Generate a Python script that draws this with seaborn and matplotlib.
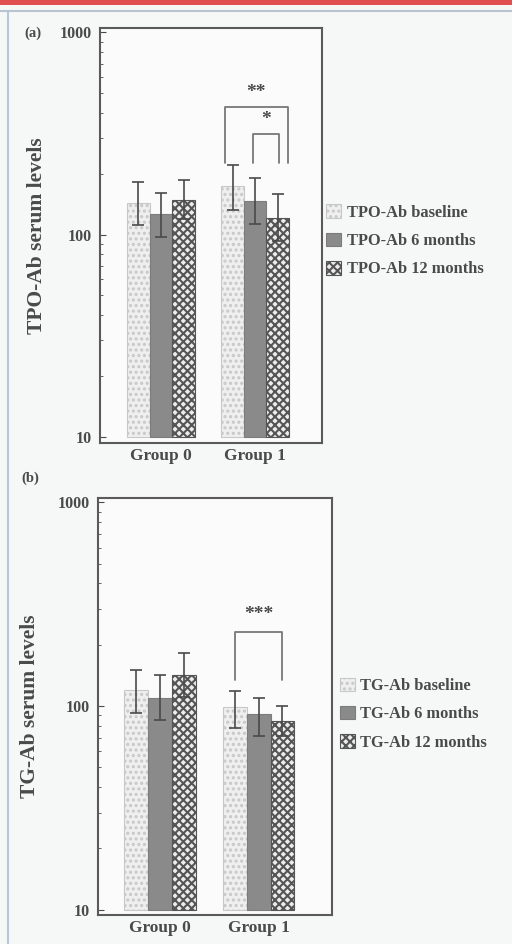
import numpy as np
import pandas as pd
import matplotlib
matplotlib.use("Agg")
import matplotlib.pyplot as plt
import matplotlib.patches as mpatches
from matplotlib.lines import Line2D
import seaborn as sns

# values (log scale)
groups = ["Group 0", "Group 1"]
tpo_labels = ["TPO-Ab baseline", "TPO-Ab 6 months", "TPO-Ab 12 months"]
tg_labels = ["TG-Ab baseline", "TG-Ab 6 months", "TG-Ab 12 months"]

tpo_mean = [[144, 126, 149], [173, 147, 121]]
tpo_low = [[111, 97, 119], [133, 113, 93]]
tpo_high = [[181, 161, 187], [222, 191, 158]]

tg_mean = [[120, 109, 142], [99, 91, 84]]
tg_low = [[92, 85, 111], [78, 71, 71]]
tg_high = [[150, 142, 182], [118, 109, 100]]

sns.set_style("white")
plt.rcParams["font.family"] = ["Liberation Serif", "DejaVu Serif"]
plt.rcParams["font.weight"] = "bold"
plt.rcParams["hatch.linewidth"] = 1.5

ink = "#4a4a4a"
bg = "#f6f8f8"
faces = ["#efefef", "#8a8a8a", "#ececec"]
edges = ["#c8c8c8", "#7c7c7c", "#555555"]
hatches = ["...", "", "xxxx"]
base = 10


def make_df(means, labels):
    rows = []
    for g, vals in zip(groups, means):
        for lab, v in zip(labels, vals):
            rows.append({"group": g, "time": lab, "value": v})
    return pd.DataFrame(rows)


def draw_panel(ax, means, lows, highs, labels, ylabel, ylab_x, tag, tag_xy,
               xlim, ylim, leg_xy):
    df = make_df(means, labels)
    sns.barplot(data=df, x="group", y="value", hue="time", hue_order=labels,
                order=groups, width=0.72, gap=0, errorbar=None, legend=False, ax=ax)
    ax.set_yscale("log")
    centers = {}
    bar_sets = list(ax.containers)
    for i, cont in enumerate(bar_sets):
        for j, p in enumerate(cont.patches):
            # bars rise from the 10 line, like the original
            top = p.get_y() + p.get_height()
            p.set_y(base)
            p.set_height(top - base)
            p.set_facecolor(faces[i])
            p.set_edgecolor(edges[i])
            p.set_hatch(hatches[i])
            p.set_linewidth(0.8)
            cx = p.get_x() + p.get_width() / 2
            centers[(j, i)] = (cx, p.get_width())
            m = means[j][i]
            ax.errorbar(cx, m, yerr=[[m - lows[j][i]], [highs[j][i] - m]],
                        fmt="none", ecolor=ink, elinewidth=1.2, capsize=4,
                        capthick=1.2, zorder=5)
    ax.set_xlim(*xlim)
    ax.set_ylim(*ylim)
    ax.set_yticks([10, 100, 1000])
    ax.set_yticklabels(["10", "100", "1000"])
    ax.tick_params(axis="y", which="major", direction="in", length=4,
                   labelsize=11.5, colors=ink, left=True, pad=6)
    ax.tick_params(axis="y", which="minor", direction="in", length=2,
                   color=ink, left=True)
    ax.tick_params(axis="x", length=0, labelsize=12.5, colors=ink, pad=4)
    for lab in ax.get_xticklabels() + ax.get_yticklabels():
        lab.set_fontweight("bold")
    ax.set_xlabel("")
    ax.set_ylabel(ylabel, fontsize=15.5, fontweight="bold", color=ink)
    ax.yaxis.set_label_coords(ylab_x, 0.5)
    for s in ax.spines.values():
        s.set_color("#5a5a5a")
        s.set_linewidth(1.5)
    ax.set_facecolor("#fbfbfb")
    ax.text(tag_xy[0], tag_xy[1], tag, transform=ax.transAxes, fontsize=10.5,
            fontweight="bold", color=ink, va="center", ha="left")
    handles = [mpatches.Patch(facecolor=faces[i], edgecolor=edges[i],
                              hatch=hatches[i], linewidth=0.8, label=labels[i])
               for i in range(3)]
    ax.legend(handles=handles, loc="center left", bbox_to_anchor=leg_xy,
              frameon=False, handlelength=0.9, handleheight=0.9,
              handletextpad=0.35, labelspacing=0.72, borderaxespad=0, borderpad=0,
              labelcolor=ink, prop={"weight": "bold", "size": 11.8})
    return centers


def bracket(ax, x0, x1, y_leg, y_top, text, y_text):
    ax.plot([x0, x0, x1, x1], [y_leg, y_top, y_top, y_leg], color="#787878",
            lw=1.3, zorder=4)
    ax.text((x0 + x1) / 2, y_text, text, ha="center", va="center",
            fontsize=14, fontweight="bold", color=ink)


fig = plt.figure(figsize=(5.12, 9.44), dpi=100, facecolor=bg)
ax1 = fig.add_axes([0.195, 0.531, 0.434, 0.439])
ax2 = fig.add_axes([0.191, 0.031, 0.457, 0.441])

c1 = draw_panel(ax1, tpo_mean, tpo_low, tpo_high, tpo_labels,
                "TPO-Ab serum levels", -0.238, "(a)", (-0.34, 0.988),
                (-0.65, 1.71), (9.34, 1047), (1.02, 0.487))
c2 = draw_panel(ax2, tg_mean, tg_low, tg_high, tg_labels,
                "TG-Ab serum levels", -0.247, "(b)", (-0.325, 1.048),
                (-0.63, 1.74), (9.45, 1046), (1.035, 0.482))

# significance brackets, group 1
b0, w = c1[(1, 0)]
b1, _ = c1[(1, 1)]
b2, _ = c1[(1, 2)]
bracket(ax1, b0 - 0.35 * w, b2 + 0.45 * w, 227, 425, "**", 505)
bracket(ax1, b1 - 0.1 * w, b2 + 0.05 * w, 227, 316, "*", 372)

g0, _ = c2[(1, 0)]
g2, _ = c2[(1, 2)]
bracket(ax2, g0, g2, 134, 230, "***", 283)

# page frame of the scanned figure
fig.add_artist(mpatches.Rectangle((0, 0.995), 1, 0.005, transform=fig.transFigure,
                                  facecolor="#e05050", edgecolor="none"))
fig.add_artist(Line2D([0.0, 1.0], [0.988, 0.988], transform=fig.transFigure,
                      color="#b8c4d0", lw=1.5))
fig.add_artist(Line2D([0.016, 0.016], [0.0, 0.988], transform=fig.transFigure,
                      color="#b8c8dc", lw=1.5))

fig.savefig("out.png", dpi=100, facecolor=bg)
